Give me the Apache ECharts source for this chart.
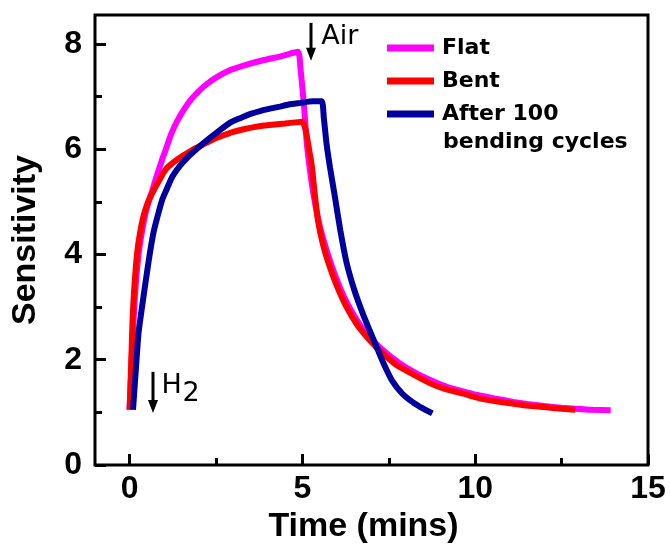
<!DOCTYPE html>
<html>
<head>
<meta charset="utf-8">
<script src="https://cdn.jsdelivr.net/npm/echarts@6/dist/echarts.min.js"></script>
<style>html,body{margin:0;padding:0;background:#fff}#chart{width:670px;height:550px}</style>
</head>
<body>
<div id="chart"></div>
<script>
// ---- data ----
const seriesNames = ['Flat', 'Bent', 'After 100'];
const legendSecondLine = 'bending cycles';

const flatX = [0, 0.03, 0.06, 0.1, 0.15, 0.2, 0.27, 0.35, 0.45, 0.55, 0.65, 0.75, 0.85, 0.95, 1.04, 1.2, 1.38, 1.6, 1.8, 2.0, 2.2, 2.5, 2.9, 3.3, 3.86, 4.4, 4.87, 4.95, 5.05, 5.13, 5.22, 5.32, 5.45, 5.6, 5.85, 6.1, 6.33, 6.65, 7.0, 7.3, 7.8, 8.25, 8.75, 9.2, 9.7, 10.2, 10.6, 11.1, 11.5, 12.0, 12.5, 12.9, 13.4, 13.92];
const flatY = [1.05, 1.5, 2.0, 2.55, 3.15, 3.6, 4.05, 4.4, 4.75, 5.0, 5.2, 5.42, 5.62, 5.82, 5.98, 6.28, 6.54, 6.78, 6.96, 7.1, 7.22, 7.36, 7.5, 7.59, 7.69, 7.77, 7.85, 7.5, 6.8, 6.1, 5.6, 5.15, 4.7, 4.3, 3.78, 3.35, 3.03, 2.68, 2.4, 2.2, 1.94, 1.76, 1.6, 1.48, 1.39, 1.31, 1.26, 1.2, 1.16, 1.12, 1.09, 1.07, 1.05, 1.04];

const bentX = [0, 0.03, 0.06, 0.09, 0.13, 0.18, 0.23, 0.3, 0.4, 0.52, 0.66, 0.85, 1.04, 1.25, 1.53, 1.8, 2.1, 2.4, 2.7, 3.0, 3.3, 3.6, 3.9, 4.2, 4.5, 4.8, 5.0, 5.1, 5.18, 5.27, 5.35, 5.45, 5.6, 5.8, 6.0, 6.28, 6.6, 6.95, 7.23, 7.5, 7.72, 8.18, 8.67, 9.1, 9.63, 10.1, 10.6, 11.07, 11.5, 12.0, 12.5, 12.9];
const bentY = [1.05, 1.6, 2.2, 2.82, 3.3, 3.75, 4.09, 4.4, 4.72, 4.97, 5.17, 5.4, 5.61, 5.74, 5.87, 5.98, 6.08, 6.18, 6.26, 6.33, 6.38, 6.42, 6.45, 6.47, 6.49, 6.51, 6.52, 6.35, 6.05, 5.7, 5.2, 4.65, 4.18, 3.75, 3.4, 3.0, 2.65, 2.37, 2.18, 2.02, 1.9, 1.73, 1.56, 1.45, 1.36, 1.27, 1.21, 1.17, 1.13, 1.1, 1.07, 1.05];

const afterX = [0.1, 0.18, 0.26, 0.36, 0.46, 0.57, 0.69, 0.82, 0.95, 1.1, 1.24, 1.45, 1.7, 1.95, 2.2, 2.55, 2.9, 3.2, 3.5, 3.8, 4.06, 4.35, 4.6, 4.95, 5.3, 5.56, 5.62, 5.7, 5.8, 5.94, 6.1, 6.28, 6.5, 6.74, 6.95, 7.15, 7.35, 7.6, 7.9, 8.18, 8.5, 8.76];
const afterY = [1.05, 1.8, 2.51, 3.0, 3.46, 3.95, 4.41, 4.75, 5.05, 5.28, 5.48, 5.68, 5.86, 6.01, 6.15, 6.33, 6.5, 6.59, 6.67, 6.73, 6.77, 6.81, 6.85, 6.88, 6.91, 6.91, 6.6, 6.1, 5.65, 5.1, 4.45, 3.84, 3.33, 2.89, 2.55, 2.24, 1.93, 1.6, 1.35, 1.2, 1.07, 0.98];

const xTickLabels = [0, 5, 10, 15];
const xMinorTicks = [2.5, 7.5, 12.5];
const yTickLabels = [0, 2, 4, 6, 8];
const yMinorTicks = [1, 3, 5, 7];

// annotations: [x, yTop, yTip, text]
const airNote = [5.26, 8.4, 7.68, 'Air'];
const h2Note = [0.69, 1.77, 0.99, 'H', '2'];

// ---- chart ----
const colors = ['#FF00FF', '#FF0000', '#00009C'];
const zip = (xs, ys) => xs.map((x, i) => [x, ys[i]]);
const dataSets = [zip(flatX, flatY), zip(bentX, bentY), zip(afterX, afterY)];

const labelFont = {fontFamily: 'Liberation Sans', fontWeight: 'bold', fontSize: 32, color: '#000'};
const nameFont = {fontFamily: 'Liberation Sans', fontWeight: 'bold', fontSize: 34, color: '#000'};
const noLine = {show: false, onZero: false};

function tickAxis(base, values, len) {
  return Object.assign({
    type: 'value', offset: 0,
    axisLine: noLine, splitLine: {show: false}, axisLabel: {show: false},
    axisTick: {show: true, inside: true, length: len, customValues: values, lineStyle: {color: '#000', width: 3}}
  }, base);
}

const chart = echarts.init(document.getElementById('chart'), null, {renderer: 'canvas'});
chart.setOption({
  animation: false,
  backgroundColor: '#fff',
  grid: {left: 95, right: 22, top: 15, bottom: 85, show: true, borderColor: '#000', borderWidth: 3, backgroundColor: 'transparent'},
  legend: {
    data: seriesNames,
    orient: 'vertical',
    left: 382, top: 32,
    itemWidth: 47, itemHeight: 7, itemGap: 11,
    icon: 'rect',
    textStyle: {fontFamily: 'DejaVu Sans', fontWeight: 'bold', fontSize: 22, color: '#000', padding: [0, 0, 0, 3]}
  },
  xAxis: [{
    type: 'value', min: -1, max: 15, position: 'bottom',
    name: 'Time (mins)', nameLocation: 'middle', nameGap: 40, nameTextStyle: Object.assign({padding: [0, 16, 0, 0]}, nameFont),
    axisLine: noLine, splitLine: {show: false},
    axisTick: {show: false},
    axisLabel: Object.assign({customValues: xTickLabels, margin: 8}, labelFont)
  },
    tickAxis({min: -1, max: 15, position: 'bottom'}, xTickLabels, 11),
    tickAxis({min: -1, max: 15, position: 'bottom'}, xMinorTicks, 7)
  ],
  yAxis: [{
    type: 'value', min: 0, max: 8.55, position: 'left',
    name: 'Sensitivity', nameLocation: 'middle', nameGap: 52, nameRotate: 90, nameTextStyle: nameFont,
    axisLine: noLine, splitLine: {show: false},
    axisTick: {show: false},
    axisLabel: Object.assign({customValues: yTickLabels, margin: 13}, labelFont)
  },
    tickAxis({min: 0, max: 8.55, position: 'left'}, yTickLabels, 11),
    tickAxis({min: 0, max: 8.55, position: 'left'}, yMinorTicks, 7)
  ],
  series: seriesNames.map((name, i) => ({
    name: name, type: 'line', data: dataSets[i],
    xAxisIndex: 0, yAxisIndex: 0,
    showSymbol: false, symbol: 'none',
    smooth: 0.2,
    color: colors[i],
    lineStyle: {color: colors[i], width: 6},
    z: 2 + i
  }))
});

// annotations positioned through the axes
function px(x, y) { return chart.convertToPixel({xAxisIndex: 0, yAxisIndex: 0}, [x, y]); }
function arrow(note) {
  const top = px(note[0], note[1]);
  const tip = px(note[0], note[2]);
  const x = Math.round(top[0]);
  return [
    {type: 'line', shape: {x1: x, y1: top[1], x2: x, y2: tip[1] - 8}, style: {stroke: '#000', lineWidth: 3}, z: 10},
    {type: 'polygon', shape: {points: [[x - 5, tip[1] - 13], [x + 5, tip[1] - 13], [x, tip[1]]]}, style: {fill: '#000'}, z: 10}
  ];
}
const airTop = px(airNote[0], airNote[1]);
const h2Top = px(h2Note[0], h2Note[1]);
const textStyle = {fontFamily: 'DejaVu Sans', fontSize: 27, fill: '#000', verticalAlign: 'middle', align: 'left'};

chart.setOption({
  graphic: [].concat(
    arrow(airNote),
    arrow(h2Note),
    [
      {type: 'text', x: airTop[0] + 10, y: airTop[1] + 14, style: Object.assign({text: airNote[3]}, textStyle), z: 10},
      {type: 'text', x: h2Top[0] + 8, y: h2Top[1] + 14, style: Object.assign({text: h2Note[3]}, textStyle), z: 10},
      {type: 'text', x: h2Top[0] + 29, y: h2Top[1] + 22, style: Object.assign({text: h2Note[4]}, textStyle), z: 10},
      {type: 'text', x: 443, y: 142, style: {text: legendSecondLine, fontFamily: 'DejaVu Sans', fontWeight: 'bold', fontSize: 22, fill: '#000', verticalAlign: 'middle', align: 'left'}, z: 10}
    ]
  )
});
</script>
</body>
</html>
